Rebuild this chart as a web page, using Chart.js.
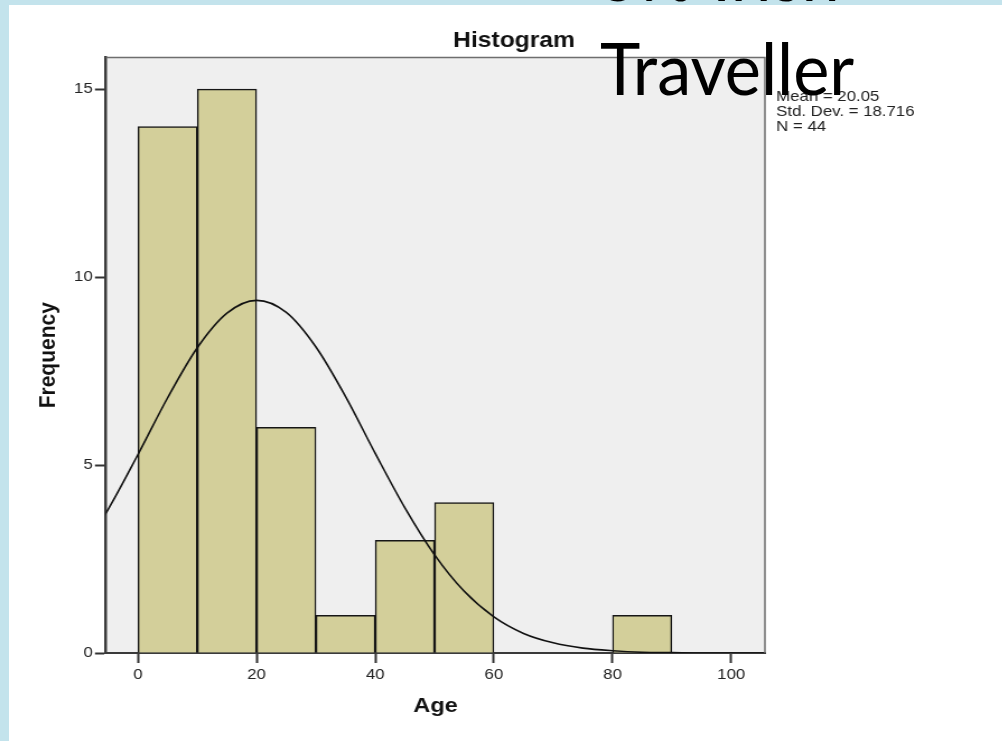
<!DOCTYPE html>
<html>
<head>
<meta charset="utf-8">
<title>Histogram of Age</title>
<script src="https://cdn.jsdelivr.net/npm/chart.js@4"></script>
<style>
  html, body { margin: 0; padding: 0; width: 1002px; height: 741px; overflow: hidden; background: #c3e3ec; }
  #panel { position: absolute; left: 9px; top: 5px; right: 0; bottom: 0; background: #ffffff; }
  /* the SPSS export is shown slightly widened on the slide */
  #stage { position: absolute; left: 0; top: 0; width: 895px; height: 741px; transform: scaleX(1.12); transform-origin: 0 0; }
  .slide { position: absolute; left: 600px; font-family: Lato, "Open Sans", sans-serif; font-size: 72px; line-height: 1; color: #000; white-space: nowrap; transform: scaleX(0.95); transform-origin: 0 0; }
  #line1 { top: -63px; }
  #line2 { top: 31px; }
</style>
</head>
<body>
<div id="panel"></div>
<div id="stage"><canvas id="chart" width="895" height="741"></canvas></div>
<div class="slide" id="line1">5% Irish</div>
<div class="slide" id="line2">Traveller</div>
<script>
// Age bins (width 10), centre of each bin and its count
const binCentres = [5, 15, 25, 35, 45, 55, 85];
const frequencies = [14, 15, 6, 1, 3, 4, 1];

// Fitted normal curve, expressed in frequency units
const curveAges = [-10, -5, 0, 5, 10, 15, 20, 25, 30, 35, 40, 45, 50, 55, 60, 65, 70, 75, 80, 85, 90, 95, 100, 105, 110];
const curveFrequencies = [2.58, 3.83, 5.28, 6.79, 8.12, 9.04, 9.38, 9.06, 8.14, 6.82, 5.31, 3.86, 2.61, 1.64, 0.96, 0.52, 0.27, 0.13, 0.06, 0.02, 0.01, 0, 0, 0, 0];

// Axis ticks
const xTicks = [0, 20, 40, 60, 80, 100];
const yTicks = [0, 5, 10, 15];

// Summary statistics
const statLines = ['Mean = 20.05', 'Std. Dev. = 18.716', 'N = 44'];

const FONT = '"Liberation Sans", Arial, Helvetica, sans-serif';
Chart.defaults.font.family = FONT;

const plotDecor = {
  id: 'plotDecor',
  beforeDraw(chart) {
    const { ctx, chartArea: a } = chart;
    ctx.save();
    ctx.fillStyle = '#efefef';
    ctx.fillRect(a.left, a.top, a.right - a.left, a.bottom - a.top);
    ctx.restore();
  },
  afterDraw(chart) {
    const { ctx, chartArea: a } = chart;
    ctx.save();
    // top and right edges of the plot frame
    ctx.strokeStyle = '#6e6e6e';
    ctx.lineWidth = 1.5;
    ctx.beginPath();
    ctx.moveTo(a.left, a.top);
    ctx.lineTo(a.right, a.top);
    ctx.lineTo(a.right, a.bottom);
    ctx.stroke();

    // chart title
    ctx.fillStyle = '#111';
    ctx.font = 'bold 22px ' + FONT;
    ctx.textAlign = 'center';
    ctx.textBaseline = 'alphabetic';
    ctx.fillText('Histogram', 459, 47);

    // statistics block beside the plot
    ctx.font = '15px ' + FONT;
    ctx.textAlign = 'left';
    ctx.fillStyle = '#222';
    statLines.forEach((t, i) => ctx.fillText(t, a.right + 10, 101 + i * 15));
    ctx.restore();
  }
};

new Chart(document.getElementById('chart'), {
  type: 'bar',
  data: {
    datasets: [
      {
        type: 'line',
        data: curveAges.map((x, i) => ({ x, y: curveFrequencies[i] })),
        borderColor: '#111',
        borderWidth: 1.6,
        pointRadius: 0,
        fill: false,
        cubicInterpolationMode: 'monotone',
        order: 0
      },
      {
        type: 'bar',
        data: binCentres.map((x, i) => ({ x, y: frequencies[i] })),
        backgroundColor: '#d3cf9a',
        borderColor: '#161616',
        borderWidth: 1.5,
        barPercentage: 1,
        categoryPercentage: 1,
        order: 1
      }
    ]
  },
  options: {
    responsive: false,
    animation: false,
    layout: { padding: { top: 57.5, right: 212, bottom: 0, left: 0 } },
    plugins: { legend: { display: false }, tooltip: { enabled: false }, title: { display: false } },
    scales: {
      x: {
        type: 'linear',
        min: -5.4,
        max: 105.7,
        offset: false,
        grid: { display: true, drawOnChartArea: false, drawTicks: true, tickLength: 10, tickColor: '#333', tickWidth: 2, offset: false },
        border: { display: true, color: '#3a3a3a', width: 2 },
        ticks: { color: '#222', font: { size: 15 }, padding: 3, maxRotation: 0, includeBounds: false },
        afterBuildTicks: s => { s.ticks = xTicks.map(v => ({ value: v })); },
        afterFit: s => { s.height = 88; },
        title: { display: true, text: 'Age', color: '#111', font: { size: 21, weight: 'bold' }, padding: { top: 0, bottom: 22 } }
      },
      y: {
        min: 0,
        max: 15.84,
        grid: { display: true, drawOnChartArea: false, drawTicks: true, tickLength: 9.8, tickColor: '#333', tickWidth: 2 },
        border: { display: true, color: '#3a3a3a', width: 2.5 },
        ticks: { color: '#222', font: { size: 15 }, padding: 2, includeBounds: false },
        afterBuildTicks: s => { s.ticks = yTicks.map(v => ({ value: v })); },
        afterFit: s => { s.width = 94.6; },
        title: { display: true, text: 'Frequency', color: '#111', font: { size: 21, weight: 'bold' }, padding: { top: 31, bottom: 0 } }
      }
    }
  },
  plugins: [plotDecor]
});
</script>
</body>
</html>
